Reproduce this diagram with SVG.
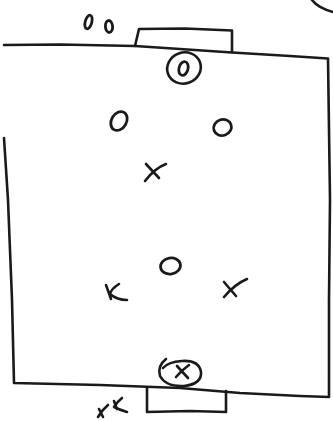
<svg xmlns="http://www.w3.org/2000/svg" width="333" height="421" viewBox="0 0 333 421">
<style>
.s{fill:none;stroke:#1a1a1a;stroke-width:2.6;stroke-linecap:round;stroke-linejoin:round}
.t{stroke-width:2.8}
</style>
<rect width="333" height="421" fill="#fff"/>
<g id="field" class="s">
<path d="M4 45 L60 44.5 L135 46 L180 49 L232 52.5 L290 56 L328 58.5 L330 200 L329 300 L329 397 L300 396 L240 393 L180 388 L100 385 L14 383 L12 300 L8 200 L4 138"/>
<path d="M312 0 Q318 8 333 12"/>
</g>
<g id="goal-top" class="s">
<path d="M135 46 L139 29 L185 28.5 L232 30.5 L232 52"/>
</g>
<g id="goal-bottom" class="s">
<path d="M147 388 L147 412 L190 411 L226 412 L226 391"/>
</g>
<g id="keeper-top" class="s">
<ellipse cx="184" cy="68" rx="17" ry="15.5" transform="rotate(-20 184 68)"/>
<ellipse cx="183.5" cy="68.5" rx="4.5" ry="7" transform="rotate(15 183.5 68.5)" class="t"/>
</g>
<g id="keeper-bottom" class="s">
<path d="M166 359 Q157 366 160 376 Q166 387 184 386 Q202 384 201 372 Q199 360 182 361 Q168 362 163 368"/>
<path d="M177 366 L188 378 M189 365 Q182 370 176 377"/>
</g>
<g id="subs-o" class="s">
<ellipse cx="88.5" cy="22" rx="3.3" ry="7" transform="rotate(15 88.5 22)" class="t"/>
<ellipse cx="109" cy="26.5" rx="3.6" ry="6" transform="rotate(-5 109 26.5)" class="t"/>
</g>
<g id="subs-x" class="s">
<path d="M99 409 L103 417 M108 405 Q102 410 98 417"/>
<path d="M114 401 L117 409 M122 398 Q117 402 114 407 Q120 410 127 412"/>
</g>
<g id="player-o1" class="s"><ellipse cx="119" cy="121" rx="7.5" ry="10" transform="rotate(30 119 121)" class="t"/></g>
<g id="player-o2" class="s"><ellipse cx="222.5" cy="127.5" rx="9" ry="8" transform="rotate(-20 222.5 127.5)" class="t"/></g>
<g id="player-x1" class="s"><path d="M146 164 L159 178 M166 164 Q155 168 145 181"/></g>
<g id="player-o3" class="s"><ellipse cx="170.5" cy="266" rx="10" ry="8" transform="rotate(-10 170.5 266)" class="t"/></g>
<g id="player-x2" class="s"><path d="M106 285 L111 299 M119 284 Q111 289 110 294 Q117 300 127 300"/></g>
<g id="player-x3" class="s"><path d="M224 282 L236 296 M247 279 Q235 284 224 297"/></g>
</svg>
